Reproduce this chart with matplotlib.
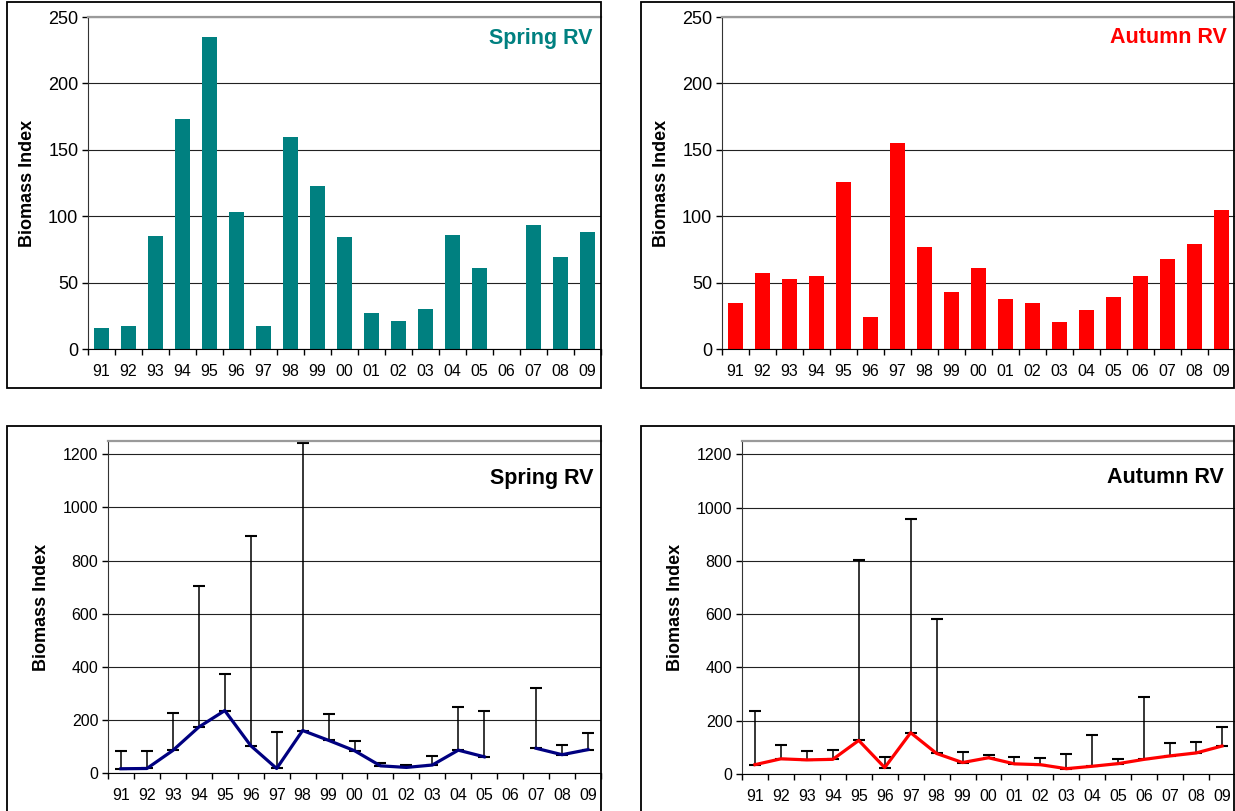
import matplotlib
matplotlib.use("Agg")
import matplotlib.pyplot as plt
from matplotlib.patches import Rectangle
import numpy as np

plt.rcParams['font.family'] = ['Liberation Sans', 'DejaVu Sans']

years = ['91', '92', '93', '94', '95', '96', '97', '98', '99', '00',
         '01', '02', '03', '04', '05', '06', '07', '08', '09']

# biomass index per survey (06 spring survey missing)
spring = [16, 17, 85, 173, 235, 103, 17, 160, 123, 84,
          27, 21, 30, 86, 61, np.nan, 93, 69, 88]
autumn = [35, 57, 53, 55, 126, 24, 155, 77, 43, 61,
          38, 35, 20, 29, 39, 55, 68, 79, 105]

# upper confidence limits
spring_upper = [81, 84, 225, 703, 372, 893, 155, 1244, 222, 121,
                39, 30, 63, 247, 233, np.nan, 321, 105, 149]
autumn_upper = [236, 110, 85, 90, 803, 65, 959, 580, 81, 72,
                65, 60, 74, 148, 57, 288, 117, 120, 178]

W, H = 1235, 811
fig = plt.figure(figsize=(W / 100, H / 100), dpi=100)


def px_axes(left, top, right, bottom):
    return fig.add_axes([left / W, (H - bottom) / H, (right - left) / W, (bottom - top) / H])


def px_frame(left, top, right, bottom):
    fig.add_artist(Rectangle((left / W, (H - bottom) / H), (right - left) / W, (bottom - top) / H,
                             transform=fig.transFigure, fill=False, edgecolor='black', linewidth=1.3))


def style_axes(ax, ymax, ystep, ytick_size):
    x = np.arange(len(years))
    ax.set_xlim(-0.5, len(years) - 0.5)
    ax.set_ylim(0, ymax)
    ax.set_xticks(x)
    ax.set_xticklabels(years, fontsize=11.5)
    ax.set_xticks(np.arange(len(years) + 1) - 0.5, minor=True)
    ax.tick_params(axis='x', which='major', length=0, pad=11)
    ax.tick_params(axis='x', which='minor', length=4, width=1, direction='out', color='black')
    ax.set_yticks(np.arange(0, ymax + 1, ystep))
    ax.tick_params(axis='y', length=4, width=1, direction='out', pad=3, labelsize=ytick_size)
    ax.yaxis.grid(True, color='#222222', linewidth=0.8)
    ax.set_axisbelow(True)
    ax.spines['right'].set_visible(False)
    ax.spines['top'].set_color('#9a9a9a')
    ax.spines['top'].set_linewidth(1.6)
    ax.spines['left'].set_color('#333333')
    ax.spines['bottom'].set_color('black')
    ax.set_ylabel('Biomass Index', fontsize=13, fontweight='bold', labelpad=9)
    return x


# panel outlines
px_frame(7, 2, 601, 388)
px_frame(641, 2, 1234, 388)
px_frame(7, 426, 601, 830)
px_frame(641, 426, 1234, 830)

# top row: bar charts
ax1 = px_axes(88, 17, 601, 349)
x = style_axes(ax1, 250, 50, 13)
ax1.bar(x, spring, width=0.53, color='#008080')
ax1.text(0.984, 0.934, 'Spring RV', transform=ax1.transAxes, ha='right', va='center',
         fontsize=15.5, fontweight='bold', color='#008080')

ax2 = px_axes(722, 17, 1235, 349)
x = style_axes(ax2, 250, 50, 13)
ax2.bar(x, autumn, width=0.53, color='#ff0000')
ax2.text(0.984, 0.937, 'Autumn RV', transform=ax2.transAxes, ha='right', va='center',
         fontsize=15.5, fontweight='bold', color='#ff0000')

# bottom row: index with upper limits
ax3 = px_axes(108, 441, 601, 773)
x = style_axes(ax3, 1250, 200, 11.5)
sp = np.array(spring)
ax3.errorbar(x, sp, yerr=[np.zeros_like(sp), np.array(spring_upper) - sp], fmt='none',
             ecolor='black', elinewidth=1.1, capsize=4.5, capthick=1.5)
ax3.plot(x, sp, color='#000080', linewidth=2.3)
ax3.text(0.984, 0.886, 'Spring RV', transform=ax3.transAxes, ha='right', va='center',
         fontsize=15.5, fontweight='bold', color='black')

ax4 = px_axes(742, 441, 1235, 774)
x = style_axes(ax4, 1250, 200, 11.5)
au = np.array(autumn, dtype=float)
ax4.errorbar(x, au, yerr=[np.zeros_like(au), np.array(autumn_upper) - au], fmt='none',
             ecolor='black', elinewidth=1.1, capsize=4.5, capthick=1.5)
ax4.plot(x, au, color='#ff0000', linewidth=2.3)
ax4.text(0.978, 0.89, 'Autumn RV', transform=ax4.transAxes, ha='right', va='center',
         fontsize=15.5, fontweight='bold', color='black')

fig.savefig('out.png', dpi=100)
